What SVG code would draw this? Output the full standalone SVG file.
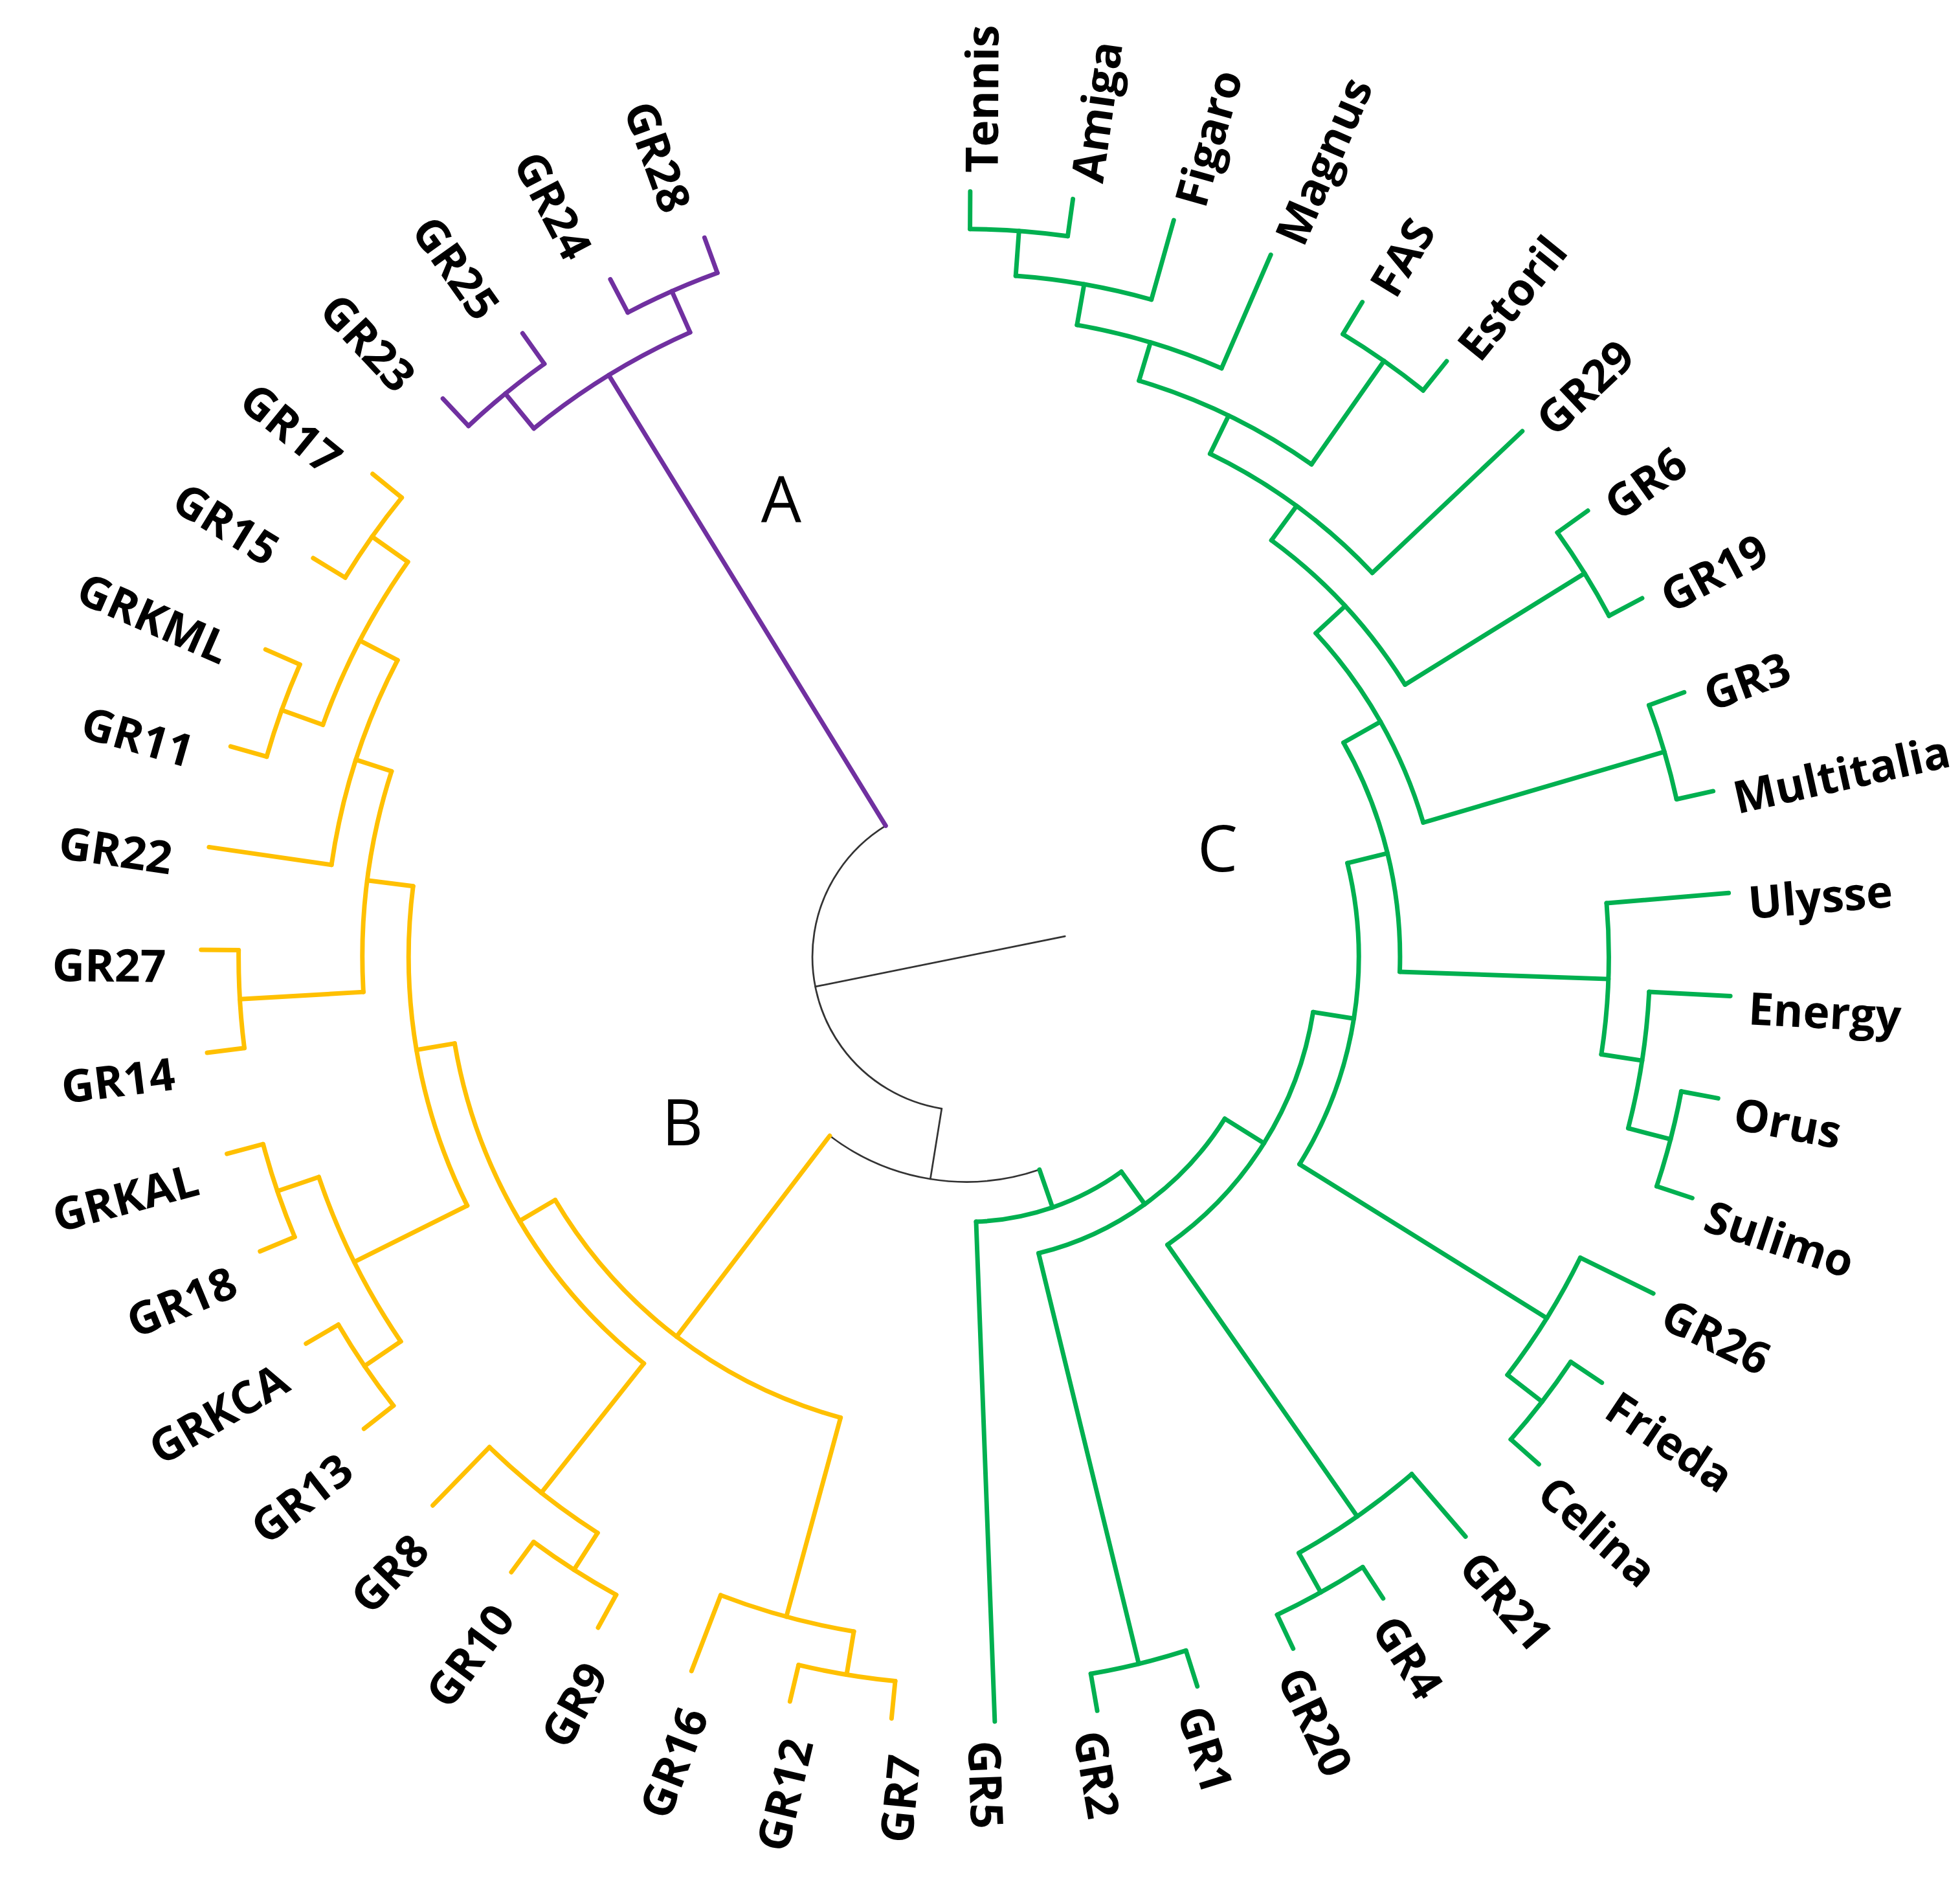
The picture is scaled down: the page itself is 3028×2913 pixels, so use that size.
<svg xmlns="http://www.w3.org/2000/svg" width="3028" height="2913" viewBox="0 0 3028 2913">
<style>
line,path{fill:none;stroke-width:3.6;stroke-linecap:round}
.p{stroke:#7030A0}
.o{stroke:#FFC000}
.g{stroke:#00B050}
.k{stroke:#333333;stroke-width:1.4}
.lf{font-family:"Open Sans","Liberation Sans",sans-serif;font-weight:700;font-size:36px;fill:#000}
.lr{text-anchor:start}
.ll{text-anchor:end}
.cl{font-family:"Open Sans","Liberation Sans",sans-serif;font-weight:400;font-size:51px;fill:#000;text-anchor:middle}
</style>
<rect width="3028" height="2913" fill="#ffffff"/>
<g id="connectors" transform="translate(1492.7,1477.8) scale(1.9314)">
<g id="root-links">
<path class="k" pathLength="360" stroke-dasharray="139.25 999" transform="rotate(99.17)" d="M123 0A123 123 0 1 1-123 0A123 123 0 1 1 123 0"/>
<line class="k" x1="123" x2="180" transform="rotate(99.17)"/>
<path class="k" pathLength="360" stroke-dasharray="56.33 999" transform="rotate(71)" d="M180 0A180 180 0 1 1-180 0A180 180 0 1 1 180 0"/>
<line class="k" x1="-120.66" y1="23.89" x2="79" y2="-16.4"/>
</g>
<g id="clade-A-links">
<line class="p" x1="123" x2="546" transform="rotate(-121.58)"/>
<path class="p" pathLength="360" stroke-dasharray="15.44 999" transform="rotate(-129.3)" d="M546 0A546 546 0 1 1-546 0A546 546 0 1 1 546 0"/>
<line class="p" x1="546" x2="582" transform="rotate(-129.3)"/>
<line class="p" x1="546" x2="582" transform="rotate(-113.86)"/>
<path class="p" pathLength="360" stroke-dasharray="7.72 999" transform="rotate(-133.16)" d="M582 0A582 582 0 1 1-582 0A582 582 0 1 1 582 0"/>
<path class="p" pathLength="360" stroke-dasharray="7.72 999" transform="rotate(-117.72)" d="M582 0A582 582 0 1 1-582 0A582 582 0 1 1 582 0"/>
<line class="p" x1="582" x2="612" transform="rotate(-110)"/>
<line class="p" x1="582" x2="612" transform="rotate(-117.72)"/>
<line class="p" x1="582" x2="612" transform="rotate(-125.44)"/>
<line class="p" x1="582" x2="612" transform="rotate(-133.16)"/>
</g>
<g id="clade-B-links">
<line class="o" x1="180" x2="382" transform="rotate(127.33)"/>
<path class="o" pathLength="360" stroke-dasharray="44.15 999" transform="rotate(105.25)" d="M382 0A382 382 0 1 1-382 0A382 382 0 1 1 382 0"/>
<line class="o" x1="382" x2="415" transform="rotate(149.4)"/>
<line class="o" x1="382" x2="547" transform="rotate(105.25)"/>
<path class="o" pathLength="360" stroke-dasharray="41.98 999" transform="rotate(128.41)" d="M415 0A415 415 0 1 1-415 0A415 415 0 1 1 415 0"/>
<line class="o" x1="415" x2="446" transform="rotate(170.39)"/>
<line class="o" x1="415" x2="547" transform="rotate(128.41)"/>
<path class="o" pathLength="360" stroke-dasharray="33.77 999" transform="rotate(153.5)" d="M446 0A446 446 0 1 1-446 0A446 446 0 1 1 446 0"/>
<line class="o" x1="446" x2="483" transform="rotate(187.27)"/>
<line class="o" x1="446" x2="547" transform="rotate(153.5)"/>
<path class="o" pathLength="360" stroke-dasharray="21.23 999" transform="rotate(176.66)" d="M483 0A483 483 0 1 1-483 0A483 483 0 1 1 483 0"/>
<line class="o" x1="483" x2="513" transform="rotate(197.89)"/>
<line class="o" x1="483" x2="582" transform="rotate(176.66)"/>
<path class="o" pathLength="360" stroke-dasharray="19.3 999" transform="rotate(188.24)" d="M513 0A513 513 0 1 1-513 0A513 513 0 1 1 513 0"/>
<line class="o" x1="513" x2="547" transform="rotate(207.54)"/>
<line class="o" x1="513" x2="612" transform="rotate(188.24)"/>
<path class="o" pathLength="360" stroke-dasharray="15.44 999" transform="rotate(199.82)" d="M547 0A547 547 0 1 1-547 0A547 547 0 1 1 547 0"/>
<line class="o" x1="547" x2="582" transform="rotate(199.82)"/>
<line class="o" x1="547" x2="582" transform="rotate(215.26)"/>
<path class="o" pathLength="360" stroke-dasharray="15.44 999" transform="rotate(145.78)" d="M547 0A547 547 0 1 1-547 0A547 547 0 1 1 547 0"/>
<line class="o" x1="547" x2="582" transform="rotate(145.78)"/>
<line class="o" x1="547" x2="582" transform="rotate(161.22)"/>
<path class="o" pathLength="360" stroke-dasharray="11.58 999" transform="rotate(122.62)" d="M547 0A547 547 0 1 1-547 0A547 547 0 1 1 547 0"/>
<line class="o" x1="547" x2="582" transform="rotate(122.62)"/>
<line class="o" x1="547" x2="612" transform="rotate(134.2)"/>
<path class="o" pathLength="360" stroke-dasharray="11.58 999" transform="rotate(99.46)" d="M547 0A547 547 0 1 1-547 0A547 547 0 1 1 547 0"/>
<line class="o" x1="547" x2="582" transform="rotate(99.46)"/>
<line class="o" x1="547" x2="612" transform="rotate(111.04)"/>
<path class="o" pathLength="360" stroke-dasharray="7.72 999" transform="rotate(211.4)" d="M582 0A582 582 0 1 1-582 0A582 582 0 1 1 582 0"/>
<path class="o" pathLength="360" stroke-dasharray="7.72 999" transform="rotate(195.96)" d="M582 0A582 582 0 1 1-582 0A582 582 0 1 1 582 0"/>
<path class="o" pathLength="360" stroke-dasharray="7.72 999" transform="rotate(172.8)" d="M582 0A582 582 0 1 1-582 0A582 582 0 1 1 582 0"/>
<path class="o" pathLength="360" stroke-dasharray="7.72 999" transform="rotate(157.36)" d="M582 0A582 582 0 1 1-582 0A582 582 0 1 1 582 0"/>
<path class="o" pathLength="360" stroke-dasharray="7.72 999" transform="rotate(141.92)" d="M582 0A582 582 0 1 1-582 0A582 582 0 1 1 582 0"/>
<path class="o" pathLength="360" stroke-dasharray="7.72 999" transform="rotate(118.76)" d="M582 0A582 582 0 1 1-582 0A582 582 0 1 1 582 0"/>
<path class="o" pathLength="360" stroke-dasharray="7.72 999" transform="rotate(95.6)" d="M582 0A582 582 0 1 1-582 0A582 582 0 1 1 582 0"/>
<line class="o" x1="582" x2="612" transform="rotate(-140.88)"/>
<line class="o" x1="582" x2="612" transform="rotate(-148.6)"/>
<line class="o" x1="582" x2="612" transform="rotate(-156.32)"/>
<line class="o" x1="582" x2="612" transform="rotate(-164.04)"/>
<line class="o" x1="582" x2="612" transform="rotate(-179.48)"/>
<line class="o" x1="582" x2="612" transform="rotate(172.8)"/>
<line class="o" x1="582" x2="612" transform="rotate(165.08)"/>
<line class="o" x1="582" x2="612" transform="rotate(157.36)"/>
<line class="o" x1="582" x2="612" transform="rotate(149.64)"/>
<line class="o" x1="582" x2="612" transform="rotate(141.92)"/>
<line class="o" x1="582" x2="612" transform="rotate(126.48)"/>
<line class="o" x1="582" x2="612" transform="rotate(118.76)"/>
<line class="o" x1="582" x2="612" transform="rotate(103.32)"/>
<line class="o" x1="582" x2="612" transform="rotate(95.6)"/>
</g>
<g id="clade-C-links">
<line class="g" x1="180" x2="212" transform="rotate(71)"/>
<path class="g" pathLength="360" stroke-dasharray="33.69 999" transform="rotate(54.17)" d="M212 0A212 212 0 1 1-212 0A212 212 0 1 1 212 0"/>
<line class="g" x1="212" x2="612" transform="rotate(87.86)"/>
<line class="g" x1="212" x2="244" transform="rotate(54.17)"/>
<path class="g" pathLength="360" stroke-dasharray="44.23 999" transform="rotate(32.05)" d="M244 0A244 244 0 1 1-244 0A244 244 0 1 1 244 0"/>
<line class="g" x1="244" x2="582" transform="rotate(76.28)"/>
<path class="g" pathLength="360" stroke-dasharray="7.72 999" transform="rotate(72.42)" d="M582 0A582 582 0 1 1-582 0A582 582 0 1 1 582 0"/>
<line class="g" x1="244" x2="281" transform="rotate(32.05)"/>
<path class="g" pathLength="360" stroke-dasharray="46 999" transform="rotate(9.05)" d="M281 0A281 281 0 1 1-281 0A281 281 0 1 1 281 0"/>
<line class="g" x1="281" x2="546" transform="rotate(55.05)"/>
<path class="g" pathLength="360" stroke-dasharray="11.58 999" transform="rotate(49.26)" d="M546 0A546 546 0 1 1-546 0A546 546 0 1 1 546 0"/>
<line class="g" x1="546" x2="612" transform="rotate(49.26)"/>
<line class="g" x1="546" x2="582" transform="rotate(60.84)"/>
<path class="g" pathLength="360" stroke-dasharray="7.72 999" transform="rotate(56.98)" d="M582 0A582 582 0 1 1-582 0A582 582 0 1 1 582 0"/>
<line class="g" x1="281" x2="314" transform="rotate(9.05)"/>
<path class="g" pathLength="360" stroke-dasharray="45.69 999" transform="rotate(-13.8)" d="M314 0A314 314 0 1 1-314 0A314 314 0 1 1 314 0"/>
<line class="g" x1="314" x2="547" transform="rotate(31.89)"/>
<path class="g" pathLength="360" stroke-dasharray="11.58 999" transform="rotate(26.1)" d="M547 0A547 547 0 1 1-547 0A547 547 0 1 1 547 0"/>
<line class="g" x1="547" x2="612" transform="rotate(26.1)"/>
<line class="g" x1="547" x2="582" transform="rotate(37.68)"/>
<path class="g" pathLength="360" stroke-dasharray="7.72 999" transform="rotate(33.82)" d="M582 0A582 582 0 1 1-582 0A582 582 0 1 1 582 0"/>
<line class="g" x1="314" x2="347" transform="rotate(-13.8)"/>
<path class="g" pathLength="360" stroke-dasharray="31.55 999" transform="rotate(-29.57)" d="M347 0A347 347 0 1 1-347 0A347 347 0 1 1 347 0"/>
<line class="g" x1="347" x2="514" transform="rotate(1.98)"/>
<path class="g" pathLength="360" stroke-dasharray="13.51 999" transform="rotate(-4.78)" d="M514 0A514 514 0 1 1-514 0A514 514 0 1 1 514 0"/>
<line class="g" x1="514" x2="612" transform="rotate(-4.78)"/>
<line class="g" x1="514" x2="547" transform="rotate(8.73)"/>
<path class="g" pathLength="360" stroke-dasharray="11.58 999" transform="rotate(2.94)" d="M547 0A547 547 0 1 1-547 0A547 547 0 1 1 547 0"/>
<line class="g" x1="547" x2="612" transform="rotate(2.94)"/>
<line class="g" x1="547" x2="582" transform="rotate(14.52)"/>
<path class="g" pathLength="360" stroke-dasharray="7.72 999" transform="rotate(10.66)" d="M582 0A582 582 0 1 1-582 0A582 582 0 1 1 582 0"/>
<line class="g" x1="347" x2="381" transform="rotate(-29.57)"/>
<path class="g" pathLength="360" stroke-dasharray="26.42 999" transform="rotate(-42.78)" d="M381 0A381 381 0 1 1-381 0A381 381 0 1 1 381 0"/>
<line class="g" x1="381" x2="582" transform="rotate(-16.36)"/>
<path class="g" pathLength="360" stroke-dasharray="7.72 999" transform="rotate(-20.22)" d="M582 0A582 582 0 1 1-582 0A582 582 0 1 1 582 0"/>
<line class="g" x1="381" x2="413" transform="rotate(-42.78)"/>
<path class="g" pathLength="360" stroke-dasharray="21.96 999" transform="rotate(-53.76)" d="M413 0A413 413 0 1 1-413 0A413 413 0 1 1 413 0"/>
<line class="g" x1="413" x2="582" transform="rotate(-31.8)"/>
<path class="g" pathLength="360" stroke-dasharray="7.72 999" transform="rotate(-35.66)" d="M582 0A582 582 0 1 1-582 0A582 582 0 1 1 582 0"/>
<line class="g" x1="413" x2="447" transform="rotate(-53.76)"/>
<path class="g" pathLength="360" stroke-dasharray="20.75 999" transform="rotate(-64.13)" d="M447 0A447 447 0 1 1-447 0A447 447 0 1 1 447 0"/>
<line class="g" x1="447" x2="612" transform="rotate(-43.38)"/>
<line class="g" x1="447" x2="481" transform="rotate(-64.13)"/>
<path class="g" pathLength="360" stroke-dasharray="18.34 999" transform="rotate(-73.3)" d="M481 0A481 481 0 1 1-481 0A481 481 0 1 1 481 0"/>
<line class="g" x1="481" x2="582" transform="rotate(-54.96)"/>
<path class="g" pathLength="360" stroke-dasharray="7.72 999" transform="rotate(-58.82)" d="M582 0A582 582 0 1 1-582 0A582 582 0 1 1 582 0"/>
<line class="g" x1="481" x2="513" transform="rotate(-73.3)"/>
<path class="g" pathLength="360" stroke-dasharray="13.51 999" transform="rotate(-80.05)" d="M513 0A513 513 0 1 1-513 0A513 513 0 1 1 513 0"/>
<line class="g" x1="513" x2="612" transform="rotate(-66.54)"/>
<line class="g" x1="513" x2="546" transform="rotate(-80.05)"/>
<path class="g" pathLength="360" stroke-dasharray="11.58 999" transform="rotate(-85.84)" d="M546 0A546 546 0 1 1-546 0A546 546 0 1 1 546 0"/>
<line class="g" x1="546" x2="612" transform="rotate(-74.26)"/>
<line class="g" x1="546" x2="582" transform="rotate(-85.84)"/>
<path class="g" pathLength="360" stroke-dasharray="7.72 999" transform="rotate(-89.7)" d="M582 0A582 582 0 1 1-582 0A582 582 0 1 1 582 0"/>
<line class="g" x1="582" x2="612" transform="rotate(-89.7)"/>
<line class="g" x1="582" x2="612" transform="rotate(-81.98)"/>
<line class="g" x1="582" x2="612" transform="rotate(-58.82)"/>
<line class="g" x1="582" x2="612" transform="rotate(-51.1)"/>
<line class="g" x1="582" x2="612" transform="rotate(-35.66)"/>
<line class="g" x1="582" x2="612" transform="rotate(-27.94)"/>
<line class="g" x1="582" x2="612" transform="rotate(-20.22)"/>
<line class="g" x1="582" x2="612" transform="rotate(-12.5)"/>
<line class="g" x1="582" x2="612" transform="rotate(10.66)"/>
<line class="g" x1="582" x2="612" transform="rotate(18.38)"/>
<line class="g" x1="582" x2="612" transform="rotate(33.82)"/>
<line class="g" x1="582" x2="612" transform="rotate(41.54)"/>
<line class="g" x1="582" x2="612" transform="rotate(56.98)"/>
<line class="g" x1="582" x2="612" transform="rotate(64.7)"/>
<line class="g" x1="582" x2="612" transform="rotate(72.42)"/>
<line class="g" x1="582" x2="612" transform="rotate(80.14)"/>
</g>
</g>
<g id="labels" transform="translate(1492.7,1477.8) scale(1.9314)">
<g id="clade-labels">
<text class="cl" x="-148" y="-348">A</text>
<text class="cl" x="-227" y="151">B</text>
<text class="cl" x="201" y="-68">C</text>
</g>
<g id="n-Tennis"><text class="lf lr" transform="rotate(-89.7)" x="627" y="22">Tennis</text></g>
<g id="n-Amiga"><text class="lf lr" transform="rotate(-81.98)" x="627" y="22">Amiga</text></g>
<g id="n-Figaro"><text class="lf lr" transform="rotate(-74.26)" x="627" y="22">Figaro</text></g>
<g id="n-Magnus"><text class="lf lr" transform="rotate(-66.54)" x="627" y="22">Magnus</text></g>
<g id="n-FAS"><text class="lf lr" transform="rotate(-58.82)" x="627" y="22">FAS</text></g>
<g id="n-Estoril"><text class="lf lr" transform="rotate(-51.1)" x="627" y="22">Estoril</text></g>
<g id="n-GR29"><text class="lf lr" transform="rotate(-43.38)" x="627" y="22">GR29</text></g>
<g id="n-GR6"><text class="lf lr" transform="rotate(-35.66)" x="627" y="22">GR6</text></g>
<g id="n-GR19"><text class="lf lr" transform="rotate(-27.94)" x="627" y="22">GR19</text></g>
<g id="n-GR3"><text class="lf lr" transform="rotate(-20.22)" x="627" y="22">GR3</text></g>
<g id="n-Multitalia"><text class="lf lr" transform="rotate(-12.5)" x="627" y="22">Multitalia</text></g>
<g id="n-Ulysse"><text class="lf lr" transform="rotate(-4.78)" x="627" y="22">Ulysse</text></g>
<g id="n-Energy"><text class="lf lr" transform="rotate(2.94)" x="627" y="22">Energy</text></g>
<g id="n-Orus"><text class="lf lr" transform="rotate(10.66)" x="627" y="22">Orus</text></g>
<g id="n-Sulimo"><text class="lf lr" transform="rotate(18.38)" x="627" y="22">Sulimo</text></g>
<g id="n-GR26"><text class="lf lr" transform="rotate(26.1)" x="627" y="22">GR26</text></g>
<g id="n-Frieda"><text class="lf lr" transform="rotate(33.82)" x="627" y="22">Frieda</text></g>
<g id="n-Celina"><text class="lf lr" transform="rotate(41.54)" x="627" y="22">Celina</text></g>
<g id="n-GR21"><text class="lf lr" transform="rotate(49.26)" x="627" y="22">GR21</text></g>
<g id="n-GR4"><text class="lf lr" transform="rotate(56.98)" x="627" y="22">GR4</text></g>
<g id="n-GR20"><text class="lf lr" transform="rotate(64.7)" x="627" y="22">GR20</text></g>
<g id="n-GR1"><text class="lf lr" transform="rotate(72.42)" x="627" y="22">GR1</text></g>
<g id="n-GR2"><text class="lf lr" transform="rotate(80.14)" x="627" y="22">GR2</text></g>
<g id="n-GR5"><text class="lf lr" transform="rotate(87.86)" x="627" y="22">GR5</text></g>
<g id="n-GR28"><text class="lf ll" transform="rotate(70)" x="-640" y="26">GR28</text></g>
<g id="n-GR24"><text class="lf ll" transform="rotate(62.28)" x="-640" y="26">GR24</text></g>
<g id="n-GR25"><text class="lf ll" transform="rotate(54.56)" x="-640" y="26">GR25</text></g>
<g id="n-GR23"><text class="lf ll" transform="rotate(46.84)" x="-640" y="26">GR23</text></g>
<g id="n-GR17"><text class="lf ll" transform="rotate(39.12)" x="-640" y="26">GR17</text></g>
<g id="n-GR15"><text class="lf ll" transform="rotate(31.4)" x="-640" y="26">GR15</text></g>
<g id="n-GRKML"><text class="lf ll" transform="rotate(23.68)" x="-640" y="26">GRKML</text></g>
<g id="n-GR11"><text class="lf ll" transform="rotate(15.96)" x="-640" y="26">GR11</text></g>
<g id="n-GR22"><text class="lf ll" transform="rotate(8.24)" x="-640" y="26">GR22</text></g>
<g id="n-GR27"><text class="lf ll" transform="rotate(0.52)" x="-640" y="26">GR27</text></g>
<g id="n-GR14"><text class="lf ll" transform="rotate(-7.2)" x="-640" y="26">GR14</text></g>
<g id="n-GRKAL"><text class="lf ll" transform="rotate(-14.92)" x="-640" y="26">GRKAL</text></g>
<g id="n-GR18"><text class="lf ll" transform="rotate(-22.64)" x="-640" y="26">GR18</text></g>
<g id="n-GRKCA"><text class="lf ll" transform="rotate(-30.36)" x="-640" y="26">GRKCA</text></g>
<g id="n-GR13"><text class="lf ll" transform="rotate(-38.08)" x="-640" y="26">GR13</text></g>
<g id="n-GR8"><text class="lf ll" transform="rotate(-45.8)" x="-640" y="26">GR8</text></g>
<g id="n-GR10"><text class="lf ll" transform="rotate(-53.52)" x="-640" y="26">GR10</text></g>
<g id="n-GR9"><text class="lf ll" transform="rotate(-61.24)" x="-640" y="26">GR9</text></g>
<g id="n-GR16"><text class="lf ll" transform="rotate(-68.96)" x="-640" y="26">GR16</text></g>
<g id="n-GR12"><text class="lf ll" transform="rotate(-76.68)" x="-640" y="26">GR12</text></g>
<g id="n-GR7"><text class="lf ll" transform="rotate(-84.4)" x="-640" y="26">GR7</text></g>
</g>
</svg>
